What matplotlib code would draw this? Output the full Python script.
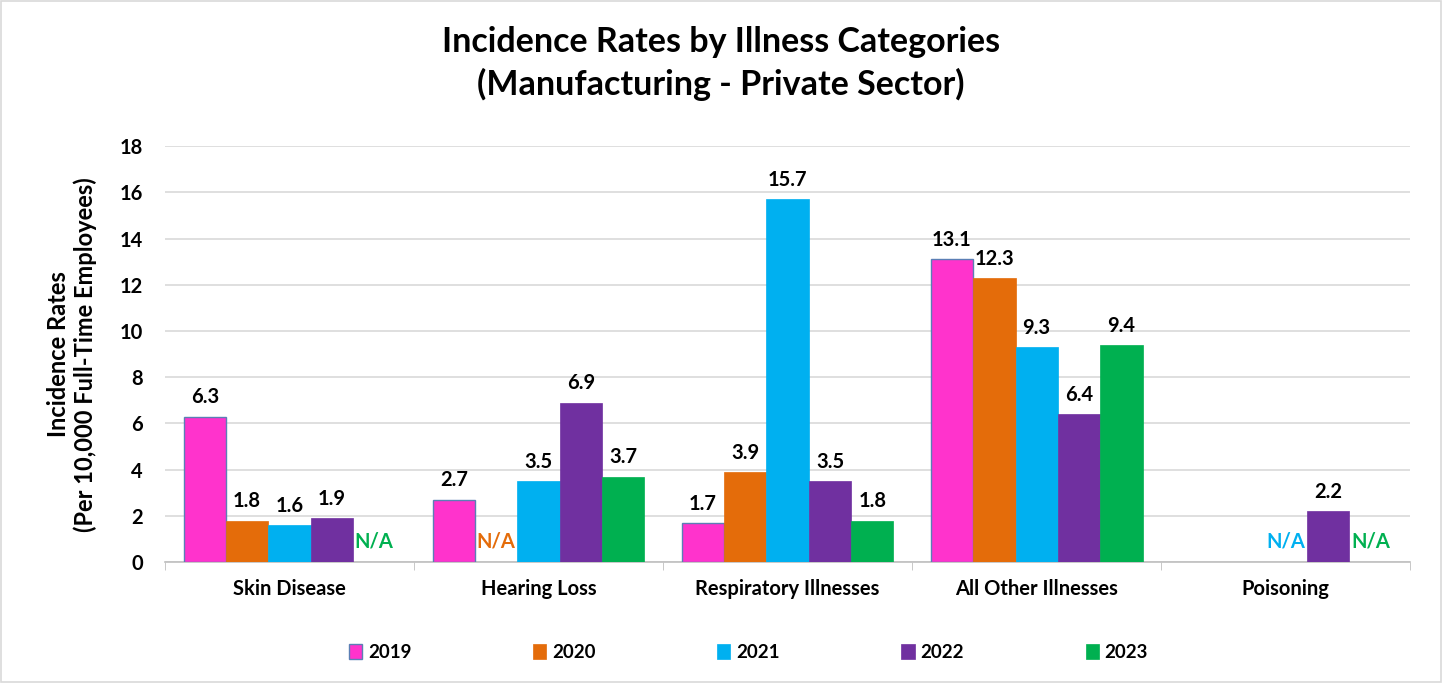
import numpy as np
import matplotlib.pyplot as plt

plt.rcParams['font.family'] = ['Lato', 'DejaVu Sans']
plt.rcParams['font.weight'] = 'bold'

categories = ["Skin Disease", "Hearing Loss", "Respiratory Illnesses",
              "All Other Illnesses", "Poisoning"]
years = ["2019", "2020", "2021", "2022", "2023"]
colors = ["#FF33CC", "#E46C0A", "#00B0F0", "#7030A0", "#00B050"]

# None = N/A shown as text, "" = nothing shown
v2019 = [6.3, 2.7, 1.7, 13.1, ""]
v2020 = [1.8, None, 3.9, 12.3, ""]
v2021 = [1.6, 3.5, 15.7, 9.3, None]
v2022 = [1.9, 6.9, 3.5, 6.4, 2.2]
v2023 = [None, 3.7, 1.8, 9.4, None]
series = [v2019, v2020, v2021, v2022, v2023]

fig = plt.figure(figsize=(14.42, 6.83), dpi=100)
ax = fig.add_axes([0.1144, 0.177, 0.8636, 0.609])

x = np.arange(len(categories))
w = 0.17
for i, (vals, col, yr) in enumerate(zip(series, colors, years)):
    pos = x + (i - 2) * w
    num = [(p, v) for p, v in zip(pos, vals) if isinstance(v, (int, float))]
    edge = "#5B7FB5" if i == 0 else col
    ax.bar([p for p, _ in num], [v for _, v in num], w, color=col,
           edgecolor=edge, linewidth=1.0 if i == 0 else 0.5, label=yr,
           zorder=3)
    for p, v in zip(pos, vals):
        if isinstance(v, (int, float)):
            ax.text(p, v + 0.4, f"{v:.1f}", ha="center", va="bottom",
                    fontsize=14.5, fontweight="bold", color="black")
        elif v is None:
            ax.text(p, 0.9, "N/A", ha="center", va="center",
                    fontsize=14.5, fontweight="bold", color=col)

ax.set_xlim(-0.5, len(categories) - 0.5)
ax.set_ylim(0, 18)
ax.set_yticks(range(0, 19, 2))
ax.set_xticks(x)
ax.set_xticklabels(categories, fontsize=14.5, fontweight="bold")
ax.set_xticks(np.arange(-0.5, len(categories), 1), minor=True)
ax.tick_params(axis="x", which="major", length=0, pad=12)
ax.tick_params(axis="x", which="minor", length=6, color="#BFBFBF")
ax.tick_params(axis="y", length=0, labelsize=14.5, pad=16)
for lab in ax.get_yticklabels():
    lab.set_fontweight("bold")

ax.grid(axis="y", color="#D9D9D9", linewidth=1.2, zorder=0)
for s in ["top", "right", "left"]:
    ax.spines[s].set_visible(False)
ax.spines["bottom"].set_color("#BFBFBF")
ax.spines["bottom"].set_linewidth(1.2)

ax.set_ylabel("Incidence Rates\n(Per 10,000 Full-Time Employees)",
              fontsize=17, fontweight="bold", labelpad=16)

fig.suptitle("Incidence Rates by Illness Categories\n(Manufacturing - Private Sector)",
             fontsize=24.5, fontweight="bold", y=0.962, linespacing=1.35)

leg = fig.legend(loc="center", bbox_to_anchor=(0.519, 0.045), ncol=5,
                 frameon=False, fontsize=13.5, handlelength=0.7,
                 handleheight=0.9, handletextpad=0.3, columnspacing=6.5)
for t in leg.get_texts():
    t.set_fontweight("bold")

fig.patches.append(plt.Rectangle((0.001, 0.001), 0.998, 0.998,
                                 transform=fig.transFigure, fill=False,
                                 edgecolor="#D9D9D9", linewidth=1.2))

fig.savefig("out.png", dpi=100)
